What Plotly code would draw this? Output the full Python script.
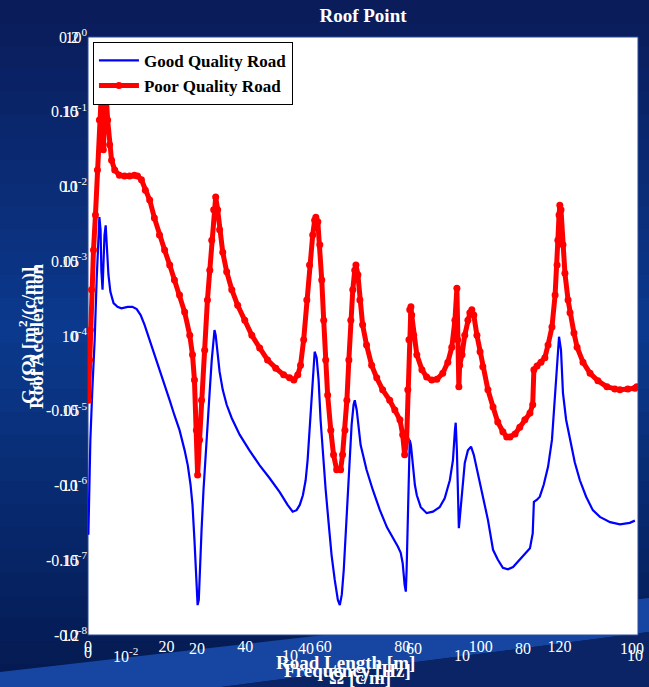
import numpy as np
import plotly.graph_objects as go

# ---------------- data ----------------
# Frequency [Hz] and log10 of the PSD of roof acceleration
good_freq = [0.1, 0.4, 0.6, 1.1, 1.7, 2.2, 2.7, 2.9, 3.2, 3.4, 3.7, 3.9, 4.2, 4.5, 4.7, 5.2, 5.7, 6.5, 7.5, 8.5,
             10.1, 11.3, 12.4, 13.4, 14.4, 15.7, 16.9, 18.2, 19.5, 20.8, 22.0, 23.3, 24.6, 25.4, 26.1, 26.6, 27.1,
             27.6, 27.9, 28.2, 28.4, 28.9, 29.4, 29.9, 30.4, 31.0, 31.5, 32.0, 32.2, 32.5, 33.0, 33.5, 34.3, 35.3,
             36.6, 38.6, 41.1, 43.7, 46.2, 48.8, 50.8, 52.1, 53.1, 53.9, 54.7, 55.4, 55.9, 56.4, 56.9, 57.4, 57.7,
             58.2, 58.7, 59.2, 59.7, 60.5, 61.3, 62.0, 62.8, 63.6, 64.1, 64.6, 65.1, 65.6, 66.1, 66.6, 67.1, 67.6,
             67.9, 68.4, 68.9, 69.4, 69.9, 70.9, 72.5, 74.3, 76.1, 77.6, 78.9, 79.6, 80.1, 80.6, 80.9, 81.1, 81.4,
             81.7, 81.9, 82.2, 82.7, 83.2, 83.7, 84.7, 86.2, 87.8, 89.5, 90.8, 92.1, 92.9, 93.4, 93.6, 93.9, 94.1,
             94.4, 94.6, 95.2, 95.9, 96.7, 97.5, 98.2, 99.0, 99.8, 100.5, 101.8, 103.1, 104.3, 105.6, 106.9, 108.2,
             109.9, 111.5, 112.5, 113.2, 113.5, 114.3, 115.0, 116.0, 117.1, 118.1, 118.9, 119.4, 119.9, 120.4, 120.9,
             121.7, 122.7, 123.9, 125.2, 126.8, 128.5, 130.3, 132.9, 135.4, 137.9, 139.2]
good_log10_psd = [-6.66, -5.93, -5.39, -4.72, -4.05, -3.25, -2.58, -2.41, -2.58, -3.12, -3.38, -3.05, -2.65, -2.52,
                  -2.72, -3.18, -3.41, -3.56, -3.61, -3.63, -3.61, -3.61, -3.64, -3.72, -3.85, -4.05, -4.25, -4.45,
                  -4.66, -4.86, -5.06, -5.26, -5.53, -5.73, -5.99, -6.26, -6.73, -7.33, -7.60, -7.53, -7.20, -6.60,
                  -6.06, -5.59, -5.12, -4.72, -4.32, -4.03, -3.92, -3.99, -4.25, -4.48, -4.72, -4.92, -5.10, -5.32,
                  -5.53, -5.73, -5.90, -6.09, -6.26, -6.35, -6.33, -6.26, -6.13, -5.93, -5.66, -5.26, -4.79, -4.32,
                  -4.21, -4.29, -4.59, -5.12, -5.53, -6.06, -6.53, -6.93, -7.26, -7.53, -7.60, -7.46, -7.13, -6.66,
                  -6.13, -5.59, -5.19, -4.92, -4.86, -4.99, -5.26, -5.46, -5.57, -5.79, -6.06, -6.33, -6.56, -6.69,
                  -6.82, -6.90, -7.04, -7.33, -7.42, -7.13, -6.46, -5.79, -5.39, -5.46, -5.73, -5.99, -6.13, -6.29,
                  -6.37, -6.35, -6.29, -6.17, -5.93, -5.66, -5.26, -5.16, -5.53, -6.19, -6.57, -6.46, -6.06, -5.70,
                  -5.53, -5.48, -5.59, -5.79, -5.99, -6.15, -6.46, -6.86, -6.99, -7.10, -7.12, -7.09, -6.99, -6.90,
                  -6.84, -6.64, -6.22, -6.19, -6.15, -5.99, -5.75, -5.39, -4.82, -4.39, -4.01, -4.19, -4.76, -5.12,
                  -5.39, -5.69, -5.93, -6.15, -6.33, -6.42, -6.49, -6.52, -6.50, -6.47]

poor_freq = [0.1, 0.4, 0.6, 0.9, 1.4, 1.9, 2.4, 2.9, 3.2, 3.4, 3.7, 3.9, 4.2, 4.5, 4.7, 5.0, 5.5, 6.0, 6.8, 8.0,
             9.3, 10.6, 11.8, 12.6, 13.6, 14.6, 15.7, 16.9, 18.2, 19.5, 20.8, 22.0, 23.3, 24.6, 25.9, 26.6, 27.1,
             27.6, 27.9, 28.4, 28.9, 29.7, 30.4, 31.0, 31.5, 32.0, 32.5, 33.0, 33.5, 34.3, 35.3, 36.6, 38.1, 39.9,
             41.7, 43.7, 45.7, 47.8, 49.8, 51.3, 52.4, 53.4, 54.1, 54.9, 55.7, 56.4, 57.2, 57.7, 58.0, 58.5, 59.0,
             59.5, 60.0, 60.5, 61.0, 61.8, 62.5, 63.3, 64.3, 64.8, 65.4, 65.9, 66.4, 66.9, 67.4, 67.9, 68.2, 68.7,
             69.2, 69.9, 70.9, 72.2, 73.5, 75.0, 76.8, 78.1, 79.4, 80.1, 80.6, 81.1, 81.4, 81.7, 81.9, 82.2, 82.4,
             82.9, 83.7, 85.0, 86.2, 87.5, 88.8, 90.3, 91.6, 92.6, 93.4, 93.9, 94.1, 94.4, 94.6, 95.2, 95.9, 96.7,
             97.2, 97.7, 98.2, 99.0, 99.8, 100.5, 101.8, 103.1, 104.3, 105.6, 106.6, 107.4, 108.7, 109.9, 111.2,
             112.5, 113.2, 113.5, 114.3, 115.3, 116.3, 117.1, 118.1, 118.9, 119.4, 119.6, 119.9, 120.1, 120.4,
             120.9, 121.4, 122.2, 122.7, 123.7, 124.5, 126.0, 127.8, 129.8, 132.1, 134.1, 135.4, 137.4, 139.2, 139.7]
poor_log10_psd = [-4.86, -4.32, -3.92, -3.38, -2.85, -2.38, -1.78, -1.11, -0.84, -0.75, -0.98, -1.51, -1.11, -0.75,
                  -0.84, -1.11, -1.44, -1.65, -1.78, -1.85, -1.86, -1.86, -1.85, -1.86, -1.91, -2.05, -2.18, -2.42,
                  -2.65, -2.85, -3.05, -3.25, -3.45, -3.68, -3.99, -4.25, -4.59, -5.26, -5.86, -5.39, -4.86, -4.19,
                  -3.52, -3.12, -2.72, -2.31, -2.14, -2.31, -2.58, -2.88, -3.14, -3.38, -3.59, -3.79, -3.99, -4.16,
                  -4.32, -4.43, -4.52, -4.56, -4.59, -4.52, -4.39, -4.05, -3.52, -3.05, -2.65, -2.45, -2.41, -2.47,
                  -2.78, -3.25, -3.79, -4.32, -4.79, -5.26, -5.59, -5.79, -5.79, -5.59, -5.26, -4.86, -4.32, -3.79,
                  -3.38, -3.12, -3.05, -3.18, -3.52, -3.85, -4.12, -4.39, -4.56, -4.72, -4.86, -4.99, -5.12, -5.32,
                  -5.59, -5.39, -4.72, -4.05, -3.65, -3.61, -3.72, -3.99, -4.25, -4.45, -4.55, -4.59, -4.58, -4.50,
                  -4.35, -4.15, -3.79, -3.36, -4.05, -4.68, -4.39, -4.25, -3.99, -3.79, -3.69, -3.65, -3.72, -3.99,
                  -4.21, -4.41, -4.72, -4.95, -5.15, -5.28, -5.35, -5.35, -5.31, -5.22, -5.12, -5.03, -4.92, -4.45,
                  -4.40, -4.35, -4.29, -4.12, -3.88, -3.45, -3.05, -2.72, -2.38, -2.25, -2.31, -2.78, -3.16, -3.52,
                  -3.69, -3.96, -4.15, -4.35, -4.50, -4.60, -4.68, -4.71, -4.72, -4.71, -4.70, -4.68]

x_ticks = [0, 20, 40, 60, 80, 100, 120, 140]
y_exponents = [0, -1, -2, -3, -4, -5, -6, -7, -8]
overlay_linear_labels = ["0.2", "0.15", "0.1", "0.05", "0", "-0.05", "-0.1", "-0.15", "-0.2"]
overlay_length_labels = ["20", "40", "60", "80", "100"]
overlay_log_labels = ["10<sup>-2</sup>", "10", "10", "10"]

# ---------------- figure ----------------
W, H = 649, 687
L_, R_, T_, B_ = 88, 11, 37, 52
pw, ph = W - L_ - R_, H - T_ - B_


def px2paper(x, y):
    return (x - L_) / pw, (H - B_ - y) / ph


fig = go.Figure()
fig.add_trace(go.Scatter(x=good_freq, y=np.power(10.0, good_log10_psd), mode="lines",
                         name="Good Quality Road", line=dict(color="#0000ff", width=2.2)))
fig.add_trace(go.Scatter(x=poor_freq, y=np.power(10.0, poor_log10_psd), mode="lines+markers",
                         name="Poor Quality Road", line=dict(color="#ff0000", width=5),
                         marker=dict(color="#ff0000", size=7)))

# background gradient (slide style)
shapes = []
top = np.array([10, 28, 90])
mid = np.array([12, 58, 142])
bot = np.array([5, 26, 82])
n = 30
for i in range(n):
    t = i / (n - 1)
    if t < 0.48:
        c = top + (mid - top) * (t / 0.48)
    else:
        c = mid + (bot - mid) * ((t - 0.48) / 0.52)
    y0 = i * H / n
    y1 = (i + 1) * H / n + 1
    x0p, y0p = px2paper(0, y0)
    x1p, y1p = px2paper(W, y1)
    shapes.append(dict(type="rect", xref="paper", yref="paper", x0=x0p, x1=x1p, y0=y1p, y1=y0p,
                       line=dict(width=0), fillcolor="rgb(%d,%d,%d)" % tuple(c.astype(int)), layer="below"))


def poly(points, color):
    path = ""
    for k, (x, y) in enumerate(points):
        xp, yp = px2paper(x, y)
        path += ("M" if k == 0 else "L") + " %.4f %.4f " % (xp, yp)
    return dict(type="path", xref="paper", yref="paper", path=path + "Z", line=dict(width=0),
                fillcolor=color, layer="below")


shapes.append(poly([(0, 700), (0, 672), (649, 598), (649, 632), (120, 700)], "#1646a2"))
shapes.append(poly([(120, 700), (649, 632), (649, 700)], "#0a2466"))
# plot area
shapes.append(dict(type="rect", xref="paper", yref="paper", x0=0, x1=1, y0=0, y1=1,
                   fillcolor="white", line=dict(color="#2a4a9a", width=1), layer="below"))

fig.update_layout(shapes=shapes)

serif = "Liberation Serif, Times New Roman, serif"
annotations = []
for lab, e in zip(overlay_linear_labels, y_exponents):
    annotations.append(dict(text=lab, xref="paper", yref="paper", x=-0.012, y=1 + e / 8.0,
                            xanchor="right", yanchor="middle", showarrow=False,
                            font=dict(family=serif, size=16, color="white")))
for k, lab in enumerate(overlay_length_labels):
    xp, yp = px2paper(197 + k * 108.7, 648)
    annotations.append(dict(text=lab, xref="paper", yref="paper", x=xp, y=yp, xanchor="center",
                            yanchor="middle", showarrow=False, font=dict(family=serif, size=16, color="white")))
for k, lab in enumerate(overlay_log_labels):
    xp, yp = px2paper([125, 290, 462, 635][k], 655)
    annotations.append(dict(text=lab, xref="paper", yref="paper", x=xp, y=yp, xanchor="center",
                            yanchor="middle", showarrow=False, font=dict(family=serif, size=16, color="white")))
xp, yp = px2paper(88, 652)
annotations.append(dict(text="0", xref="paper", yref="paper", x=xp, y=yp, xanchor="center", yanchor="middle",
                        showarrow=False, font=dict(family=serif, size=16, color="white")))

for txt, cx, cy in [("Road Length [m]", 345, 662), ("Frequency [Hz]", 347, 670), ("Ω [c/m]", 360, 677)]:
    xp, yp = px2paper(cx, cy)
    annotations.append(dict(text="<b>%s</b>" % txt, xref="paper", yref="paper", x=xp, y=yp, xanchor="center",
                            yanchor="middle", showarrow=False, font=dict(family=serif, size=19, color="white")))
for txt, cx in [("Roof Acceleration", 36), ("G<sub>d</sub>(Ω) [m<sup>2</sup>/(c/m)]", 28)]:
    xp, yp = px2paper(cx, 336)
    annotations.append(dict(text="<b>%s</b>" % txt, xref="paper", yref="paper", x=xp, y=yp, xanchor="center",
                            yanchor="middle", textangle=-90, showarrow=False,
                            font=dict(family=serif, size=19, color="white")))

fig.update_layout(
    width=W, height=H,
    margin=dict(l=L_, r=R_, t=T_, b=B_, pad=0),
    paper_bgcolor="#0a2060",
    plot_bgcolor="rgba(0,0,0,0)",
    title=dict(text="<b>Roof Point</b>", x=0.5, xref="paper", y=0.977, yref="container",
               xanchor="center", yanchor="middle", font=dict(family=serif, size=19, color="white")),
    showlegend=True,
    legend=dict(x=0.009, y=0.992, xanchor="left", yanchor="top", bgcolor="white",
                bordercolor="black", borderwidth=1,
                font=dict(family=serif, size=17, color="black", weight="bold"),
                itemwidth=40, tracegroupgap=0),
    xaxis=dict(range=[0, 140], tickvals=x_ticks, showgrid=False, zeroline=False, showline=False,
               ticks="", tickfont=dict(family=serif, size=16, color="white"), ticklabelstandoff=0),
    yaxis=dict(type="log", range=[-8, 0], tickvals=[10.0 ** e for e in y_exponents],
               ticktext=["10<sup>%d</sup>" % e for e in y_exponents], showgrid=False, zeroline=False,
               showline=False, ticks="", tickfont=dict(family=serif, size=16, color="white")),
    annotations=annotations,
)

fig.write_html("out.html")
